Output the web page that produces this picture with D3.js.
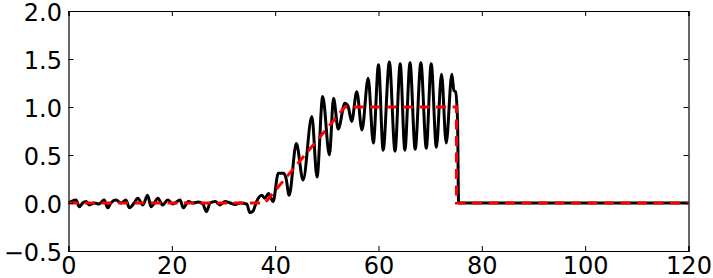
<!DOCTYPE html>
<html>
<head>
<meta charset="utf-8">
<script src="https://cdn.jsdelivr.net/npm/d3@7"></script>
<style>
  html, body { margin: 0; padding: 0; background: #fff; }
  svg { display: block; }
  .tick text { font-family: "DejaVu Sans", sans-serif; font-size: 24px; fill: #000; }
</style>
</head>
<body>
<svg id="chart" width="713" height="278"></svg>
<script>
// ---- data ----
const xTicks = [0, 20, 40, 60, 80, 100, 120];
const yTicks = [-0.5, 0.0, 0.5, 1.0, 1.5, 2.0];

// measured signal (black)
const signalX = [0, 0.7, 1.45, 2.1, 2.75, 3.4, 4.0, 5.0, 5.9, 6.9, 7.6, 8.2, 9.2, 10.2, 11.1, 11.8, 12.7, 13.4, 14.4, 15.3, 16.0, 16.5, 17.3, 18.2, 19.2, 20.2, 20.6, 21.6, 22.2, 23.2, 24.2, 25.1, 26.0, 26.7, 27.4, 28.4, 29.3, 30.3, 31.3, 32.3, 33.2, 34.5, 35.1, 35.7, 36.4, 37.4, 38.0, 38.7, 39.6, 40.6, 41.6, 42.1, 42.7, 44.1, 45.4, 47.1, 48.1, 49.2, 50.5, 51.3, 52.2, 53.5, 54.1, 54.8, 55.8, 56.8, 58.0, 59.0, 60.0, 60.9, 62.1, 63.2, 64.2, 65.1, 66.1, 67.1, 68.2, 69.25, 70.2, 71.2, 72.2, 73.1, 74.2, 74.6, 74.9, 75.3, 75.5, 120];
const signalY = [0.0, 0.02, 0.03, -0.04, 0.0, 0.015, -0.02, 0.0, -0.01, 0.03, -0.05, 0.0, 0.03, 0.0, 0.03, -0.05, 0.0, 0.05, -0.02, 0.08, -0.04, -0.01, 0.05, -0.02, 0.03, -0.01, 0.0, 0.03, -0.05, 0.015, 0.0, 0.01, -0.01, -0.09, 0.0, 0.015, -0.02, 0.015, 0.0, -0.015, 0.0, -0.01, -0.1, -0.085, 0.015, 0.08, 0.05, 0.1, 0.015, 0.31, 0.31, 0.26, 0.08, 0.62, 0.24, 0.9, 0.27, 1.11, 0.5, 1.09, 0.77, 1.04, 1.01, 0.85, 1.16, 0.76, 1.3, 0.625, 1.44, 0.55, 1.47, 0.54, 1.45, 0.55, 1.46, 0.56, 1.46, 0.57, 1.45, 0.58, 1.34, 0.625, 1.34, 1.17, 1.16, 0.86, 0.0, 0.0];

// reference (red dashed)
const refX = [0, 38, 53.5, 75.1, 75.1, 120];
const refY = [0, 0, 1, 1, 0, 0];

// ---- layout ----
const margin = { left: 68.5, right: 713 - 688.5, top: 11, bottom: 278 - 251 };
const W = 713, H = 278;
const svg = d3.select("#chart");

const x = d3.scaleLinear().domain([0, 120]).range([margin.left, W - margin.right]);
const y = d3.scaleLinear().domain([-0.5, 2.0]).range([H - margin.bottom, margin.top]);

const sig = signalX.map((d, i) => [d, signalY[i]]);
const ref = refX.map((d, i) => [d, refY[i]]);

const clip = svg.append("clipPath").attr("id", "clip").append("rect")
  .attr("x", x(0)).attr("y", y(2.0)).attr("width", x(120) - x(0)).attr("height", y(-0.5) - y(2.0));

const g = svg.append("g").attr("clip-path", "url(#clip)");

g.append("path")
  .datum(sig)
  .attr("fill", "none")
  .attr("stroke", "#000")
  .attr("stroke-width", 3)
  .attr("stroke-linejoin", "round")
  .attr("d", d3.line().x(d => x(d[0])).y(d => y(d[1])).curve(d3.curveMonotoneX));

g.append("path")
  .datum(ref)
  .attr("fill", "none")
  .attr("stroke", "#ff0000")
  .attr("stroke-width", 3)
  .attr("stroke-dasharray", "10,6.5")
  .attr("d", d3.line().x(d => x(d[0])).y(d => y(d[1])));

// ---- axes ----
const fmt = d3.format(".1f");
const yFmt = v => fmt(v).replace("-", "\u2212");

const axB = svg.append("g").attr("transform", `translate(0,${y(-0.5)})`)
  .call(d3.axisBottom(x).tickValues(xTicks).tickSize(-5).tickPadding(6).tickFormat(d3.format("d")));
const axL = svg.append("g").attr("transform", `translate(${x(0)},0)`)
  .call(d3.axisLeft(y).tickValues(yTicks).tickSize(-5).tickPadding(6.5).tickFormat(yFmt));
const axT = svg.append("g").attr("transform", `translate(0,${y(2.0)})`)
  .call(d3.axisTop(x).tickValues(xTicks).tickSize(-5).tickFormat(""));
const axR = svg.append("g").attr("transform", `translate(${x(120)},0)`)
  .call(d3.axisRight(y).tickValues(yTicks).tickSize(-5).tickFormat(""));

axL.selectAll(".tick text").attr("dy", "0.38em");
[axB, axL, axT, axR].forEach(a => {
  a.selectAll(".domain").attr("stroke", "#000").attr("stroke-width", 1.2);
  a.selectAll(".tick line").attr("stroke", "#000").attr("stroke-width", 1);
  a.selectAll(".tick text").attr("font-family", null).attr("font-size", null);
});
</script>
</body>
</html>
